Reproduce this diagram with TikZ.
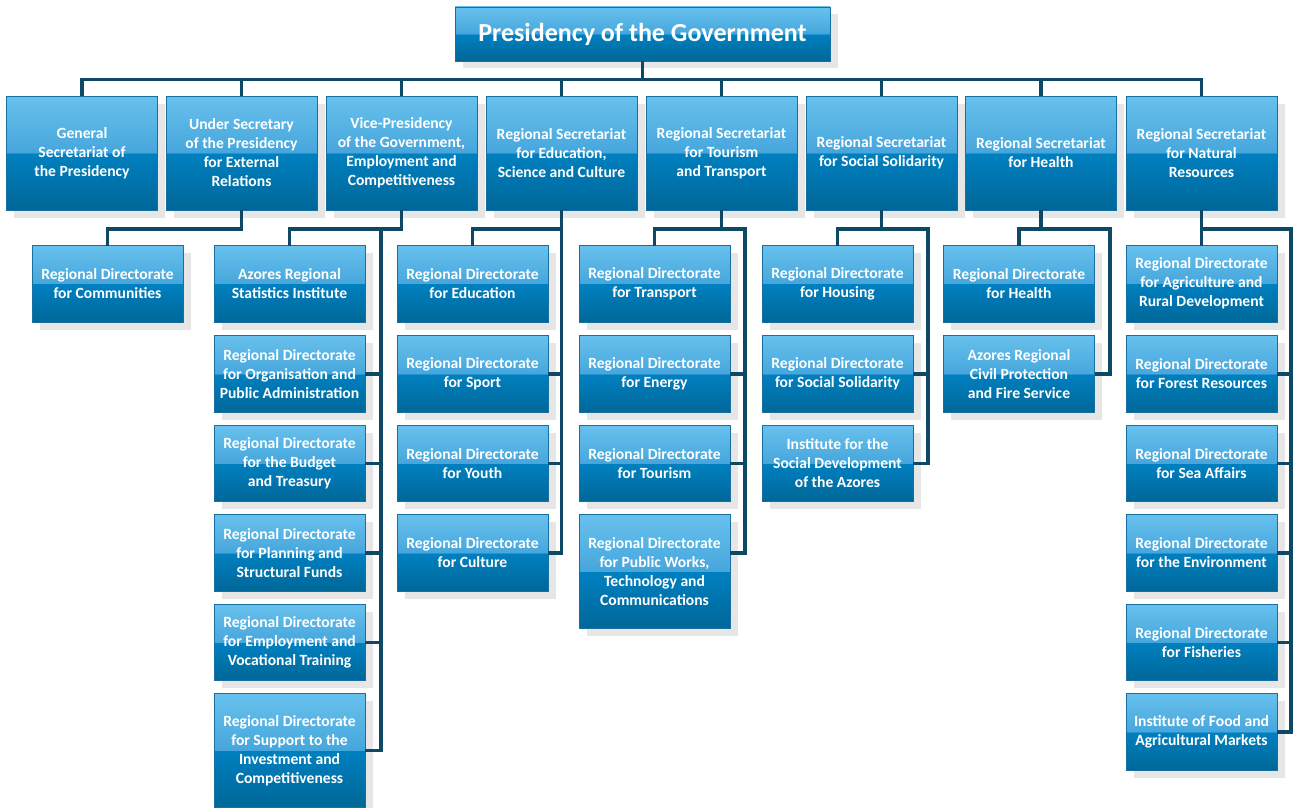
\documentclass[tikz,border=0pt]{standalone}
\usepackage{fontspec}
\setmainfont{Carlito}
\usetikzlibrary{shadows,calc}
\definecolor{btop}{RGB}{104,193,237}
\definecolor{bmidA}{RGB}{70,166,220}
\definecolor{bmidB}{RGB}{0,128,192}
\definecolor{bbot}{RGB}{0,103,152}
\definecolor{bborder}{RGB}{24,112,162}
\definecolor{shadowgray}{RGB}{230,230,230}
\definecolor{conncol}{RGB}{13,72,100}
\pgfdeclareverticalshading{boxshade}{100bp}{color(0bp)=(bbot); color(25bp)=(bbot); color(49.9bp)=(bmidB); color(50.1bp)=(bmidA); color(75bp)=(btop); color(100bp)=(btop)}
\tikzset{
  orgbox/.style={shading=boxshade, draw=bborder, line width=0.9pt,
    drop shadow={shadow xshift=7.5pt, shadow yshift=-7.5pt, fill=shadowgray, opacity=1},
    inner sep=0pt, outer sep=0pt, align=center, text=white,
    font=\bfseries\fontsize{15.6}{19}\selectfont},
  topbox/.style={orgbox, minimum width=375pt, minimum height=54pt,
    font=\bfseries\fontsize{26}{30}\selectfont},
  lone/.style={orgbox, minimum width=151pt, minimum height=114pt},
  ltwo/.style={orgbox, minimum width=151pt, minimum height=76.5pt},
  ltall/.style={orgbox, minimum width=151pt, minimum height=113.5pt},
  conn/.style={draw=conncol, line width=3.8pt, line join=miter}
}
\begin{document}
\begin{tikzpicture}[x=1pt,y=-1pt]
\useasboundingbox (0,0) rectangle (1293,808);
% top
\node[topbox] (top) at (642.5,34) {Presidency of the Government};
% level 1
\node[lone] (la) at (82,153) {General\\Secretariat of\\the Presidency};
\node[lone] (lb) at (241.5,153) {Under Secretary\\of the Presidency\\for External\\Relations};
\node[lone] (lc) at (401.5,153) {Vice-Presidency\\of the Government,\\Employment and\\Competitiveness};
\node[lone] (ld) at (561.5,153) {Regional Secretariat\\for Education,\\Science and Culture};
\node[lone] (le) at (721.5,153) {Regional Secretariat\\for Tourism\\and Transport};
\node[lone] (lf) at (881.5,153) {Regional Secretariat\\for Social Solidarity};
\node[lone] (lg) at (1041,153) {Regional Secretariat\\for Health};
\node[lone] (lh) at (1201.5,153) {Regional Secretariat\\for Natural\\Resources};
% level 2 - under secretary
\node[ltwo] (comm) at (107.5,283.75) {Regional Directorate\\for Communities};
% vice-presidency
\node[ltwo] (vp1) at (289.5,283.75) {Azores Regional\\Statistics Institute};
\node[ltwo] (vp2) at (289.5,374) {Regional Directorate\\for Organisation and\\Public Administration};
\node[ltwo] (vp3) at (289.5,463.5) {Regional Directorate\\for the Budget\\and Treasury};
\node[ltwo] (vp4) at (289.5,553) {Regional Directorate\\for Planning and\\Structural Funds};
\node[ltwo] (vp5) at (289.5,642.5) {Regional Directorate\\for Employment and\\Vocational Training};
\node[ltall] (vp6) at (289.5,750.5) {Regional Directorate\\for Support to the\\Investment and\\Competitiveness};
% education
\node[ltwo] (ed1) at (472.5,283.75) {Regional Directorate\\for Education};
\node[ltwo] (ed2) at (472.5,374) {Regional Directorate\\for Sport};
\node[ltwo] (ed3) at (472.5,463.5) {Regional Directorate\\for Youth};
\node[ltwo] (ed4) at (472.5,553) {Regional Directorate\\for Culture};
% tourism
\node[ltwo] (tr1) at (654.5,283.75) {Regional Directorate\\for Transport};
\node[ltwo] (tr2) at (654.5,374) {Regional Directorate\\for Energy};
\node[ltwo] (tr3) at (654.5,463.5) {Regional Directorate\\for Tourism};
\node[ltall] (tr4) at (654.5,571.5) {Regional Directorate\\for Public Works,\\Technology and\\Communications};
% social solidarity
\node[ltwo] (so1) at (837.5,283.75) {Regional Directorate\\for Housing};
\node[ltwo] (so2) at (837.5,374) {Regional Directorate\\for Social Solidarity};
\node[ltwo] (so3) at (837.5,463.5) {Institute for the\\Social Development\\of the Azores};
% health
\node[ltwo] (he1) at (1019,283.75) {Regional Directorate\\for Health};
\node[ltwo] (he2) at (1019,374) {Azores Regional\\Civil Protection\\and Fire Service};
% natural resources
\node[ltwo] (nr1) at (1201.5,283.75) {Regional Directorate\\for Agriculture and\\Rural Development};
\node[ltwo] (nr2) at (1201.5,374) {Regional Directorate\\for Forest Resources};
\node[ltwo] (nr3) at (1201.5,463.5) {Regional Directorate\\for Sea Affairs};
\node[ltwo] (nr4) at (1201.5,553) {Regional Directorate\\for the Environment};
\node[ltwo] (nr5) at (1201.5,642.5) {Regional Directorate\\for Fisheries};
\node[ltwo] (nr6) at (1201.5,732) {Institute of Food and\\Agricultural Markets};
% helper coordinates
\coordinate (bus) at (0,79.5);
\coordinate (b2) at (0,229);
\coordinate (vpS) at (381,229);
\coordinate (trS) at (745,229);
\coordinate (soS) at (928,229);
\coordinate (heS) at (1110,229);
\coordinate (nrS) at (1291.3,229);
\coordinate (pwstub) at ($(tr4.north east)+(0,38.25)$);
% connectors level 0-1
\draw[conn] (top.south) -- (top.south |- bus);
\draw[conn] (la.north) -- (la.north |- bus) -- (lh.north |- bus) -- (lh.north);
\foreach \n in {lb,lc,ld,le,lf,lg} {\draw[conn] (\n.north) -- (\n.north |- bus);}
% under secretary
\draw[conn] (lb.south) -- (lb.south |- b2) -| (comm.north);
% vice-presidency
\draw[conn] (lc.south) -- (lc.south |- b2) -| (vp1.north);
\draw[conn] (vpS) |- (vp6.east);
\foreach \n in {vp2,vp3,vp4,vp5} {\draw[conn] (\n.east) -- (\n.east -| vpS);}
% education
\draw[conn] (ld.south) |- (ed4.east);
\draw[conn] (ld.south |- b2) -| (ed1.north);
\foreach \n in {ed2,ed3} {\draw[conn] (\n.east) -- (\n.east -| ld.south);}
% tourism
\draw[conn] (le.south) -- (le.south |- b2) -| (tr1.north);
\draw[conn] (le.south |- b2) -- (trS) |- (pwstub);
\foreach \n in {tr2,tr3} {\draw[conn] (\n.east) -- (\n.east -| trS);}
% social solidarity
\draw[conn] (lf.south) -- (lf.south |- b2) -| (so1.north);
\draw[conn] (lf.south |- b2) -- (soS) |- (so3.east);
\draw[conn] (so2.east) -- (so2.east -| soS);
% health
\draw[conn] (lg.south) -- (lg.south |- b2) -| (he1.north);
\draw[conn] (lg.south |- b2) -- (heS) |- (he2.east);
% natural resources
\draw[conn] (lh.south) -- (nr1.north);
\draw[conn] (lh.south |- b2) -- (nrS) |- (nr6.east);
\foreach \n in {nr2,nr3,nr4,nr5} {\draw[conn] (\n.east) -- (\n.east -| nrS);}
\end{tikzpicture}
\end{document}
